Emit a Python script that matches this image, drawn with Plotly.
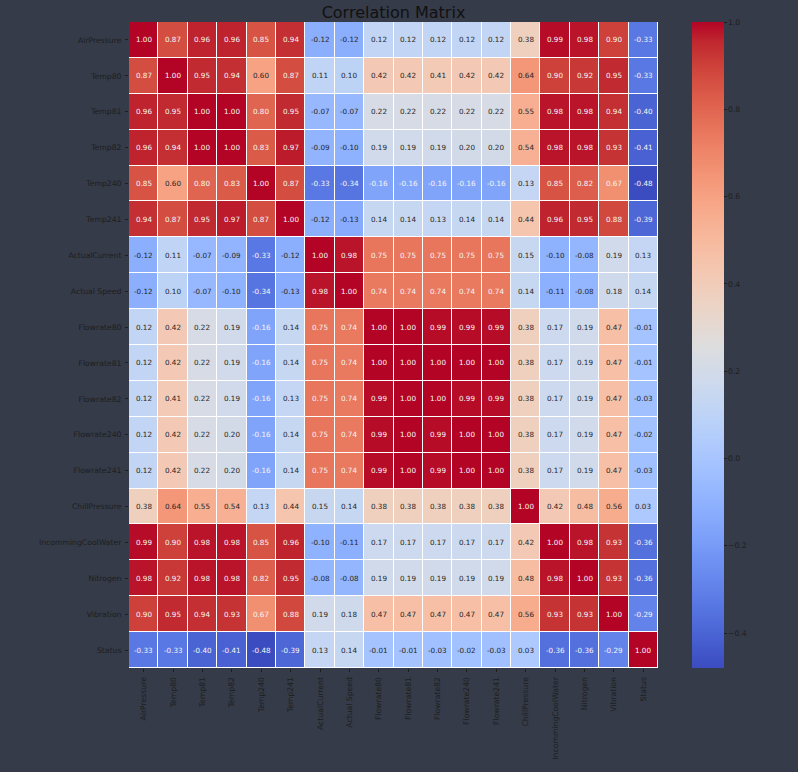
import numpy as np
import plotly.graph_objects as go

labels = ["AirPressure", "Temp80", "Temp81", "Temp82", "Temp240", "Temp241",
          "ActualCurrent", "Actual Speed", "Flowrate80", "Flowrate81", "Flowrate82",
          "Flowrate240", "Flowrate241", "ChillPressure", "IncommingCoolWater",
          "Nitrogen", "Vibration", "Status"]

row_airpressure = [1.00, 0.87, 0.96, 0.96, 0.85, 0.94, -0.12, -0.12, 0.12, 0.12, 0.12, 0.12, 0.12, 0.38, 0.99, 0.98, 0.90, -0.33]
row_temp80 = [0.87, 1.00, 0.95, 0.94, 0.60, 0.87, 0.11, 0.10, 0.42, 0.42, 0.41, 0.42, 0.42, 0.64, 0.90, 0.92, 0.95, -0.33]
row_temp81 = [0.96, 0.95, 1.00, 1.00, 0.80, 0.95, -0.07, -0.07, 0.22, 0.22, 0.22, 0.22, 0.22, 0.55, 0.98, 0.98, 0.94, -0.40]
row_temp82 = [0.96, 0.94, 1.00, 1.00, 0.83, 0.97, -0.09, -0.10, 0.19, 0.19, 0.19, 0.20, 0.20, 0.54, 0.98, 0.98, 0.93, -0.41]
row_temp240 = [0.85, 0.60, 0.80, 0.83, 1.00, 0.87, -0.33, -0.34, -0.16, -0.16, -0.16, -0.16, -0.16, 0.13, 0.85, 0.82, 0.67, -0.48]
row_temp241 = [0.94, 0.87, 0.95, 0.97, 0.87, 1.00, -0.12, -0.13, 0.14, 0.14, 0.13, 0.14, 0.14, 0.44, 0.96, 0.95, 0.88, -0.39]
row_actualcurrent = [-0.12, 0.11, -0.07, -0.09, -0.33, -0.12, 1.00, 0.98, 0.75, 0.75, 0.75, 0.75, 0.75, 0.15, -0.10, -0.08, 0.19, 0.13]
row_actualspeed = [-0.12, 0.10, -0.07, -0.10, -0.34, -0.13, 0.98, 1.00, 0.74, 0.74, 0.74, 0.74, 0.74, 0.14, -0.11, -0.08, 0.18, 0.14]
row_flowrate80 = [0.12, 0.42, 0.22, 0.19, -0.16, 0.14, 0.75, 0.74, 1.00, 1.00, 0.99, 0.99, 0.99, 0.38, 0.17, 0.19, 0.47, -0.01]
row_flowrate81 = [0.12, 0.42, 0.22, 0.19, -0.16, 0.14, 0.75, 0.74, 1.00, 1.00, 1.00, 1.00, 1.00, 0.38, 0.17, 0.19, 0.47, -0.01]
row_flowrate82 = [0.12, 0.41, 0.22, 0.19, -0.16, 0.13, 0.75, 0.74, 0.99, 1.00, 1.00, 0.99, 0.99, 0.38, 0.17, 0.19, 0.47, -0.03]
row_flowrate240 = [0.12, 0.42, 0.22, 0.20, -0.16, 0.14, 0.75, 0.74, 0.99, 1.00, 0.99, 1.00, 1.00, 0.38, 0.17, 0.19, 0.47, -0.02]
row_flowrate241 = [0.12, 0.42, 0.22, 0.20, -0.16, 0.14, 0.75, 0.74, 0.99, 1.00, 0.99, 1.00, 1.00, 0.38, 0.17, 0.19, 0.47, -0.03]
row_chillpressure = [0.38, 0.64, 0.55, 0.54, 0.13, 0.44, 0.15, 0.14, 0.38, 0.38, 0.38, 0.38, 0.38, 1.00, 0.42, 0.48, 0.56, 0.03]
row_incommingcoolwater = [0.99, 0.90, 0.98, 0.98, 0.85, 0.96, -0.10, -0.11, 0.17, 0.17, 0.17, 0.17, 0.17, 0.42, 1.00, 0.98, 0.93, -0.36]
row_nitrogen = [0.98, 0.92, 0.98, 0.98, 0.82, 0.95, -0.08, -0.08, 0.19, 0.19, 0.19, 0.19, 0.19, 0.48, 0.98, 1.00, 0.93, -0.36]
row_vibration = [0.90, 0.95, 0.94, 0.93, 0.67, 0.88, 0.19, 0.18, 0.47, 0.47, 0.47, 0.47, 0.47, 0.56, 0.93, 0.93, 1.00, -0.29]
row_status = [-0.33, -0.33, -0.40, -0.41, -0.48, -0.39, 0.13, 0.14, -0.01, -0.01, -0.03, -0.02, -0.03, 0.03, -0.36, -0.36, -0.29, 1.00]

z = [row_airpressure, row_temp80, row_temp81, row_temp82, row_temp240, row_temp241,
     row_actualcurrent, row_actualspeed, row_flowrate80, row_flowrate81, row_flowrate82,
     row_flowrate240, row_flowrate241, row_chillpressure, row_incommingcoolwater,
     row_nitrogen, row_vibration, row_status]

cbar_ticks = [-0.4, -0.2, 0.0, 0.2, 0.4, 0.6, 0.8, 1.0]
cbar_ticktext = ["\u22120.4", "\u22120.2", "0.0", "0.2", "0.4", "0.6", "0.8", "1.0"]

# matplotlib coolwarm (Moreland)
cw = [(59,76,192),(68,90,204),(77,104,215),(87,117,225),(98,130,234),(108,142,241),
      (119,154,247),(130,165,251),(141,176,254),(152,185,255),(163,194,255),(174,201,253),
      (184,208,249),(194,213,244),(204,217,238),(213,219,230),(221,221,221),(229,216,209),
      (236,211,197),(241,204,185),(245,196,173),(247,187,160),(247,177,148),(247,166,135),
      (244,154,123),(241,141,111),(236,127,99),(229,112,88),(222,96,77),(213,80,66),
      (203,62,56),(192,40,47),(180,4,38)]
n = len(cw)
colorscale = [[i / (n - 1), "rgb(%d,%d,%d)" % c] for i, c in enumerate(cw)]
cw_arr = np.array(cw, dtype=float) / 255.0
pos = np.linspace(0, 1, n)

zarr = np.array(z, dtype=float)
zmin = zarr.min()
zmax = zarr.max() + 1e-4

def color_at(v):
    t = (v - zmin) / (zmax - zmin)
    return np.array([np.interp(t, pos, cw_arr[:, k]) for k in range(3)])

def lum(rgb):
    rgb = np.where(rgb <= 0.03928, rgb / 12.92, ((rgb + 0.055) / 1.055) ** 2.4)
    return rgb.dot([0.2126, 0.7152, 0.0722])

bg = "rgb(53,59,72)"
dark = "#1e1e1e"
font = "DejaVu Sans"

fig = go.Figure(go.Heatmap(
    z=z, x=labels, y=labels, colorscale=colorscale, zmin=zmin, zmax=zmax,
    xgap=1, ygap=1, hoverongaps=False,
    colorbar=dict(
        x=(692 - 129) / 529, xanchor="left", xref="paper", xpad=0, ypad=0,
        y=0, yanchor="bottom", len=1, lenmode="fraction", thickness=32,
        outlinewidth=0, tickvals=cbar_ticks, ticktext=cbar_ticktext,
        ticks="outside", ticklen=3, tickcolor=dark, tickwidth=1,
        tickfont=dict(family=font, size=7.7, color=dark),
    ),
))

annotations = []
for i, rl in enumerate(labels):
    for j, cl in enumerate(labels):
        v = z[i][j]
        c = "#262626" if lum(color_at(v)) > 0.408 else "#f5f5f5"
        annotations.append(dict(x=cl, y=rl, xref="x", yref="y", text="%.2f" % v,
                                showarrow=False, font=dict(family=font, size=7.2, color=c)))

fig.update_layout(
    width=798, height=772,
    margin=dict(l=129, r=140, t=22, b=104),
    paper_bgcolor=bg, plot_bgcolor="white",
    font=dict(family=font, color=dark),
    title=dict(text="Correlation Matrix", x=(129 + 658) / 2 / 798, xanchor="center",
               y=1 - 12 / 772, yanchor="middle", yref="container",
               font=dict(family=font, size=16, color="#111111")),
    annotations=annotations,
    xaxis=dict(tickangle=-90, ticks="outside", ticklen=3, tickcolor=dark,
               ticklabelstandoff=2,
               tickfont=dict(family=font, size=7.7, color=dark), showgrid=False,
               zeroline=False, showline=False),
    yaxis=dict(autorange="reversed", ticks="outside", ticklen=3, tickcolor=dark,
               ticklabelstandoff=2,
               tickfont=dict(family=font, size=7.7, color=dark), showgrid=False,
               zeroline=False, showline=False),
)

fig.write_html("out.html", config={"displayModeBar": False},
               post_script="document.body.style.margin='0';document.body.style.overflow='hidden';")
